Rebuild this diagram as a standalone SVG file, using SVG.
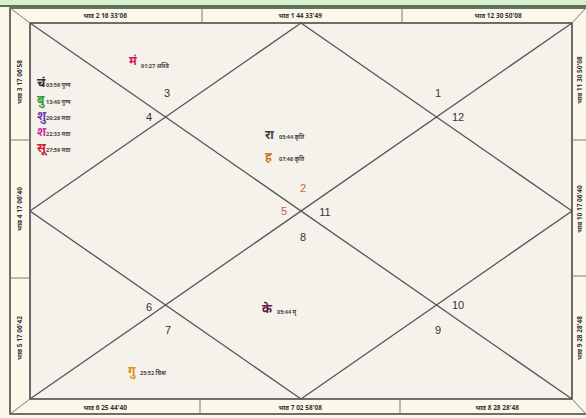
<svg xmlns="http://www.w3.org/2000/svg" width="586" height="418" viewBox="0 0 586 418">
<defs>
<style>
.frame{fill:none;stroke:#4a4a4a;stroke-width:1.6}
.thin{fill:none;stroke:#7a7a7a;stroke-width:1}
.ln{stroke:#555;stroke-width:1.3;fill:none}
.num{font-family:"Liberation Sans Narrow","Liberation Sans",sans-serif;font-size:11px;fill:#333;text-anchor:middle}
.hdr{font-family:"Noto Sans","Liberation Sans",sans-serif;font-size:6.5px;fill:#333;font-weight:bold}
.pl{font-family:"Noto Sans","Liberation Sans",sans-serif;font-size:12px;font-weight:bold}
.sm{font-family:"Noto Sans","Liberation Sans",sans-serif;font-size:5.5px;fill:#444;font-weight:bold}
</style>
</defs>
<rect width="586" height="418" fill="#fbf8ea"/>
<rect x="0" y="0" width="586" height="5" fill="#d9efcf"/>
<line x1="0" y1="6" x2="586" y2="6" stroke="#4f7a4f" stroke-width="2"/>
<rect x="30" y="23" width="542" height="376" fill="#f4f2ea"/>
<g id="frame">
<rect x="10" y="8" width="580" height="406" class="frame"/>
<rect x="30" y="23" width="542" height="376" class="frame" stroke-width="2"/>
<line x1="10" y1="8" x2="30" y2="23" class="thin"/>
<line x1="10" y1="414" x2="30" y2="399" class="thin"/>
<line x1="586" y1="8" x2="572" y2="23" class="thin"/>
<line x1="586" y1="414" x2="572" y2="399" class="thin"/>
<line x1="202" y1="8" x2="202" y2="23" class="thin"/>
<line x1="402" y1="8" x2="402" y2="23" class="thin"/>
<line x1="200" y1="399" x2="200" y2="414" class="thin"/>
<line x1="400" y1="399" x2="400" y2="414" class="thin"/>
<line x1="10" y1="140" x2="30" y2="140" class="thin"/>
<line x1="10" y1="278" x2="30" y2="278" class="thin"/>
<line x1="572" y1="140" x2="586" y2="140" class="thin"/>
<line x1="572" y1="276" x2="586" y2="276" class="thin"/>
</g>
<g id="headers">
<text class="hdr" x="105" y="18" text-anchor="middle">भाव 2 16 33'06</text>
<text class="hdr" x="300" y="18" text-anchor="middle">भाव 1 44 33'49</text>
<text class="hdr" x="498" y="18" text-anchor="middle">भाव 12 30 50'08</text>
<text class="hdr" x="105" y="410" text-anchor="middle">भाव 6 25 44'40</text>
<text class="hdr" x="300" y="410" text-anchor="middle">भाव 7 02 58'08</text>
<text class="hdr" x="497" y="410" text-anchor="middle">भाव 8 28 28'48</text>
<text class="hdr" transform="translate(22,82) rotate(-90)" text-anchor="middle">भाव 3 17 06'58</text>
<text class="hdr" transform="translate(22,209) rotate(-90)" text-anchor="middle">भाव 4 17 06'40</text>
<text class="hdr" transform="translate(22,338) rotate(-90)" text-anchor="middle">भाव 5 17 06'42</text>
<text class="hdr" transform="translate(582,80) rotate(-90)" text-anchor="middle">भाव 11 30 50'08</text>
<text class="hdr" transform="translate(582,209) rotate(-90)" text-anchor="middle">भाव 10 17 06'40</text>
<text class="hdr" transform="translate(582,338) rotate(-90)" text-anchor="middle">भाव 9 28 28'48</text>
</g>
<g id="connectors">
<line class="ln" x1="30" y1="23" x2="572" y2="399"/>
<line class="ln" x1="572" y1="23" x2="30" y2="399"/>
<polygon class="ln" points="301,23 572,211 301,399 30,211"/>
</g>
<g id="house-numbers">
<text class="num" x="167" y="97">3</text>
<text class="num" x="149" y="121">4</text>
<text class="num" x="438" y="97">1</text>
<text class="num" x="458" y="121">12</text>
<text class="num" x="303" y="192" style="fill:#c06a3a">2</text>
<text class="num" x="284" y="215" style="fill:#d0505a">5</text>
<text class="num" x="325" y="216">11</text>
<text class="num" x="303" y="241">8</text>
<text class="num" x="149" y="311">6</text>
<text class="num" x="168" y="334">7</text>
<text class="num" x="458" y="309">10</text>
<text class="num" x="438" y="334">9</text>
</g>
<g id="house3">
<text x="129" y="65" class="pl" fill="#d81b60">मं</text><text x="141" y="68" class="sm">01:27 अश्वि</text>
</g>
<g id="house4">
<text x="37" y="87" class="pl" fill="#2a2a3a" font-size="10">चं</text><text x="46" y="87" class="sm">03:59 पुष्य</text>
<text x="37" y="104" class="pl" fill="#2e9b3a" font-size="10">बु</text><text x="46" y="104" class="sm">13:40 पुष्य</text>
<text x="37" y="120" class="pl" fill="#6a3fb0" font-size="10">शु</text><text x="46" y="120" class="sm">20:26 मघा</text>
<text x="37" y="136" class="pl" fill="#d0309a" font-size="10">श</text><text x="46" y="136" class="sm">22:33 मघा</text>
<text x="37" y="152" class="pl" fill="#d02040" font-size="10">सू</text><text x="46" y="152" class="sm">27:59 मघा</text>
</g>
<g id="house1">
<text x="265" y="139" class="pl" fill="#444">रा</text><text x="279" y="139" class="sm">05:44 कृति</text>
<text x="265" y="161" class="pl" fill="#c87a20">ह</text><text x="279" y="161" class="sm">07:46 कृति</text>
</g>
<g id="house7">
<text x="262" y="313" class="pl" fill="#5a2040">के</text><text x="277" y="314" class="sm">05:44 मृ</text>
</g>
<g id="house6">
<text x="128" y="375" class="pl" fill="#d89020">गु</text><text x="140" y="375" class="sm">25:52 चित्रा</text>
</g>
</svg>
